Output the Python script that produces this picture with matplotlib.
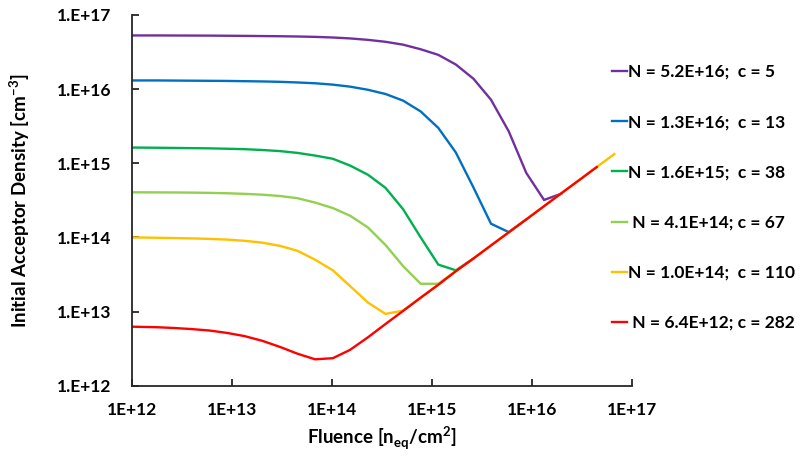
import matplotlib
matplotlib.use("Agg")
import matplotlib.pyplot as plt
from matplotlib.ticker import FixedLocator, FixedFormatter, NullLocator

plt.rcParams["font.family"] = ["Lato", "DejaVu Sans"]
plt.rcParams["mathtext.fontset"] = "custom"
plt.rcParams["mathtext.rm"] = "Lato"
plt.rcParams["mathtext.bf"] = "Lato:bold"

FLUENCE = [1.0e12, 1.77e12, 2.65e12, 3.97e12, 5.96e12, 8.93e12, 1.34e13, 2.01e13,
           3.01e13, 4.52e13, 6.78e13, 1.02e14, 1.52e14, 2.29e14, 3.43e14, 5.14e14,
           7.71e14, 1.156e15, 1.73e15, 2.60e15, 3.89e15, 5.85e15, 8.77e15, 1.32e16,
           1.97e16, 2.95e16, 4.44e16, 6.65e16]

# initial acceptor density per curve
PURPLE = [5.30e16, 5.30e16, 5.29e16, 5.28e16, 5.27e16, 5.25e16, 5.23e16, 5.20e16,
          5.17e16, 5.13e16, 5.07e16, 4.97e16, 4.83e16, 4.62e16, 4.35e16, 3.98e16,
          3.45e16, 2.90e16, 2.15e16, 1.38e16, 7.2e15, 2.7e15, 7.4e14, 3.2e14, 3.9e14]
BLUE = [1.31e16, 1.31e16, 1.305e16, 1.30e16, 1.295e16, 1.29e16, 1.28e16, 1.27e16,
        1.255e16, 1.23e16, 1.20e16, 1.15e16, 1.08e16, 9.8e15, 8.6e15, 7.0e15,
        5.0e15, 3.0e15, 1.4e15, 4.7e14, 1.53e14, 1.18e14, 1.75e14]
GREEN = [1.63e15, 1.62e15, 1.61e15, 1.60e15, 1.59e15, 1.57e15, 1.55e15, 1.51e15,
         1.46e15, 1.38e15, 1.27e15, 1.15e15, 9.3e14, 7.0e14, 4.66e14, 2.4e14,
         1.0e14, 4.3e13, 3.6e13, 5.2e13]
LIGHT_GREEN = [4.06e14, 4.05e14, 4.04e14, 4.02e14, 3.99e14, 3.94e14, 3.87e14, 3.77e14,
               3.62e14, 3.38e14, 2.95e14, 2.49e14, 1.96e14, 1.36e14, 7.9e13, 4.1e13,
               2.37e13, 2.37e13, 3.5e13]
YELLOW = [1.00e14, 9.9e13, 9.8e13, 9.7e13, 9.55e13, 9.35e13, 9.0e13, 8.5e13,
          7.7e13, 6.6e13, 5.0e13, 3.6e13, 2.2e13, 1.32e13, 9.3e12, 1.03e13,
          1.54e13, 2.3e13, 3.5e13, 5.2e13, 7.8e13, 1.17e14, 1.75e14, 2.64e14,
          3.95e14, 5.9e14, 8.9e14, 1.33e15]
RED = [6.25e12, 6.15e12, 6.0e12, 5.8e12, 5.55e12, 5.15e12, 4.66e12, 4.03e12,
       3.34e12, 2.7e12, 2.27e12, 2.35e12, 3.05e12, 4.5e12, 6.8e12, 1.02e13,
       1.54e13, 2.3e13, 3.5e13, 5.2e13, 7.8e13, 1.17e14, 1.75e14, 2.64e14,
       3.95e14, 5.9e14, 8.9e14]

LABELS = ["N = 5.2E+16;  c = 5", "N = 1.3E+16;  c = 13", "N = 1.6E+15;  c = 38",
          " N = 4.1E+14; c = 67", "N = 1.0E+14;  c = 110", " N = 6.4E+12; c = 282"]
COLORS = ["#7030A0", "#0070C0", "#00B050", "#92D050", "#FFC000", "#FF0000"]

X_TICKS = [1e12, 1e13, 1e14, 1e15, 1e16, 1e17]
X_TICK_LABELS = ["1E+12", "1E+13", "1E+14", "1E+15", "1E+16", "1E+17"]
Y_TICKS = [1e12, 1e13, 1e14, 1e15, 1e16, 1e17]
Y_TICK_LABELS = ["1.E+12", "1.E+13", "1.E+14", "1.E+15", "1.E+16", "1.E+17"]

fig = plt.figure(figsize=(8.08, 4.57), dpi=100)
ax = fig.add_axes([132 / 808, 1 - 385.7 / 457, 500 / 808, 370.7 / 457])

for ys, color, label in zip([PURPLE, BLUE, GREEN, LIGHT_GREEN, YELLOW, RED], COLORS, LABELS):
    ax.plot(FLUENCE[:len(ys)], ys, color=color, linewidth=1.7, label=label,
            solid_joinstyle="miter")

ax.set_xscale("log")
ax.set_yscale("log")
ax.set_xlim(1e12, 1e17)
ax.set_ylim(1e12, 1e17)
ax.xaxis.set_major_locator(FixedLocator(X_TICKS))
ax.xaxis.set_major_formatter(FixedFormatter(X_TICK_LABELS))
ax.yaxis.set_major_locator(FixedLocator(Y_TICKS))
ax.yaxis.set_major_formatter(FixedFormatter(Y_TICK_LABELS))
ax.xaxis.set_minor_locator(NullLocator())
ax.yaxis.set_minor_locator(NullLocator())

for side in ["top", "right"]:
    ax.spines[side].set_visible(False)
for side in ["left", "bottom"]:
    ax.spines[side].set_linewidth(1.3)
    ax.spines[side].set_color("#262626")

ax.tick_params(axis="both", direction="in", length=5, width=1.3, color="#262626")
ax.tick_params(axis="x", pad=12)
ax.tick_params(axis="y", pad=15)
for lab in ax.get_xticklabels() + ax.get_yticklabels():
    lab.set_fontweight("bold")
    lab.set_fontsize(12.5)

ax.set_xlabel(r"Fluence [n$_{\mathbf{eq}}$/cm$^{\mathbf{2}}$]", fontsize=13.5,
              fontweight="bold", labelpad=6)
ax.set_ylabel(r"Initial Acceptor Density [cm$^{\mathbf{-3}}$]", fontsize=13.5,
              fontweight="bold")
ax.yaxis.set_label_coords((20 - 132) / 500, 0.5)
ax.xaxis.set_label_coords(0.5, -(438 - 385.7) / 370.7)
ax.xaxis.label.set_va("center")
ax.yaxis.label.set_va("center")

leg = ax.legend(loc="upper left", bbox_to_anchor=(612 / 808, 1 - 64 / 457),
                bbox_transform=fig.transFigure, frameon=False,
                prop={"weight": "bold", "size": 12.5}, handlelength=0.85,
                handletextpad=0.1, labelspacing=1.97, borderpad=0, borderaxespad=0)

fig.savefig("out.png", dpi=100)
